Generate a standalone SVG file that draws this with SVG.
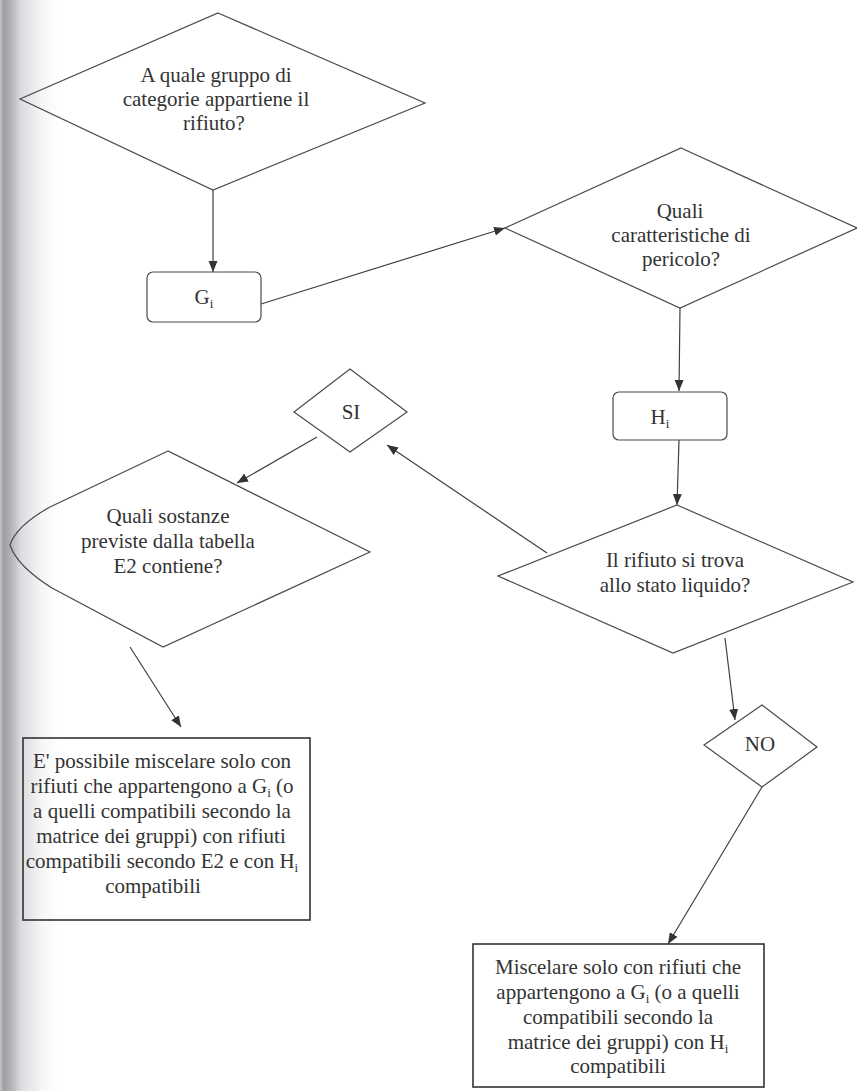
<svg xmlns="http://www.w3.org/2000/svg" width="857" height="1091" viewBox="0 0 857 1091">
<defs>
<style>
.shape{fill:none;stroke:#4a4a4a;stroke-width:1.2}
.box{fill:none;stroke:#333;stroke-width:1.6}
</style>
<marker id="arr" markerUnits="userSpaceOnUse" markerWidth="12" markerHeight="10" refX="11" refY="4.5" orient="auto">
<path d="M0,0 L11,4.5 L0,9 Z" fill="#333"/>
</marker>
<linearGradient id="shadow" x1="0" y1="0" x2="1" y2="0">
<stop offset="0" stop-color="#c8c8cc"/>
<stop offset="0.06" stop-color="#9d9da3"/>
<stop offset="0.16" stop-color="#aeaeb3"/>
<stop offset="0.35" stop-color="#dcdce0"/>
<stop offset="0.7" stop-color="#f6f6f7"/>
<stop offset="1" stop-color="#ffffff"/>
</linearGradient>
</defs>
<rect x="0" y="0" width="857" height="1091" fill="#ffffff"/>
<rect x="0" y="0" width="60" height="1091" fill="url(#shadow)"/>

<g id="connectors" fill="none" stroke="#404040" stroke-width="1.2" marker-end="url(#arr)">
<line x1="213" y1="190" x2="213" y2="272"/>
<line x1="261" y1="304" x2="505" y2="228"/>
<line x1="680" y1="308" x2="679" y2="391"/>
<line x1="679" y1="440" x2="677" y2="505"/>
<line x1="547" y1="553" x2="387" y2="445"/>
<line x1="317" y1="437" x2="237" y2="483"/>
<line x1="130" y1="647" x2="181" y2="727"/>
<line x1="725" y1="638" x2="735" y2="720"/>
<line x1="762" y1="787" x2="668" y2="944"/>
</g>

<g fill="#333" text-anchor="middle" font-family="Liberation Serif, serif" font-size="21">
<g id="node-gruppo">
<polygon class="shape" points="218,13 425,103 213,190 20,99"/>
<text x="216" y="82">A quale gruppo di</text>
<text x="216" y="106">categorie appartiene il</text>
<text x="214" y="130">rifiuto?</text>
</g>

<g id="node-gi">
<rect class="shape" x="147" y="272" width="114" height="50" rx="6"/>
<text x="204" y="304">G<tspan font-size="13" dy="4">i</tspan></text>
</g>

<g id="node-caratteristiche">
<polygon class="shape" points="681,148 857,228 680,308 505,228"/>
<text x="680" y="218">Quali</text>
<text x="681" y="242">caratteristiche di</text>
<text x="681" y="266">pericolo?</text>
</g>

<g id="node-hi">
<rect class="shape" x="613" y="392" width="114" height="48" rx="6"/>
<text x="660" y="424">H<tspan font-size="13" dy="4">i</tspan></text>
</g>

<g id="node-liquido">
<polygon class="shape" points="677,505 853,582 673,653 498,576"/>
<text x="675" y="567">Il rifiuto si trova</text>
<text x="675" y="592">allo stato liquido?</text>
</g>

<g id="node-si">
<polygon class="shape" points="350,369 407,412 350,452 294,412"/>
<text x="351" y="419">SI</text>
</g>

<g id="node-sostanze">
<path class="shape" d="M168,451 L50,507 Q16,526 10,545 Q17,566 52,588 L163,647 L370,552 Z"/>
<text x="168" y="523">Quali sostanze</text>
<text x="168" y="548">previste dalla tabella</text>
<text x="168" y="573">E2 contiene?</text>
</g>

<g id="node-no">
<polygon class="shape" points="762,705 817,747 762,787 704,745"/>
<text x="760" y="751">NO</text>
</g>

<g id="node-esito-si">
<rect class="box" x="23" y="738" width="287" height="182"/>
<text x="162" y="768">E' possibile miscelare solo con</text>
<text x="162" y="793">rifiuti che appartengono a G<tspan font-size="13" dy="4">i</tspan><tspan dy="-4"> (o</tspan></text>
<text x="162" y="818">a quelli compatibili secondo la</text>
<text x="161" y="843">matrice dei gruppi) con rifiuti</text>
<text x="162" y="868">compatibili secondo E2 e con H<tspan font-size="13" dy="4">i</tspan></text>
<text x="153" y="893">compatibili</text>
</g>

<g id="node-esito-no">
<rect class="box" x="473" y="944" width="291" height="143"/>
<text x="618" y="974">Miscelare solo con rifiuti che</text>
<text x="618" y="999">appartengono a G<tspan font-size="13" dy="4">i</tspan><tspan dy="-4"> (o a quelli</tspan></text>
<text x="618" y="1024">compatibili secondo la</text>
<text x="618" y="1049">matrice dei gruppi) con H<tspan font-size="13" dy="4">i</tspan></text>
<text x="618" y="1073">compatibili</text>
</g>
</g>
</svg>
